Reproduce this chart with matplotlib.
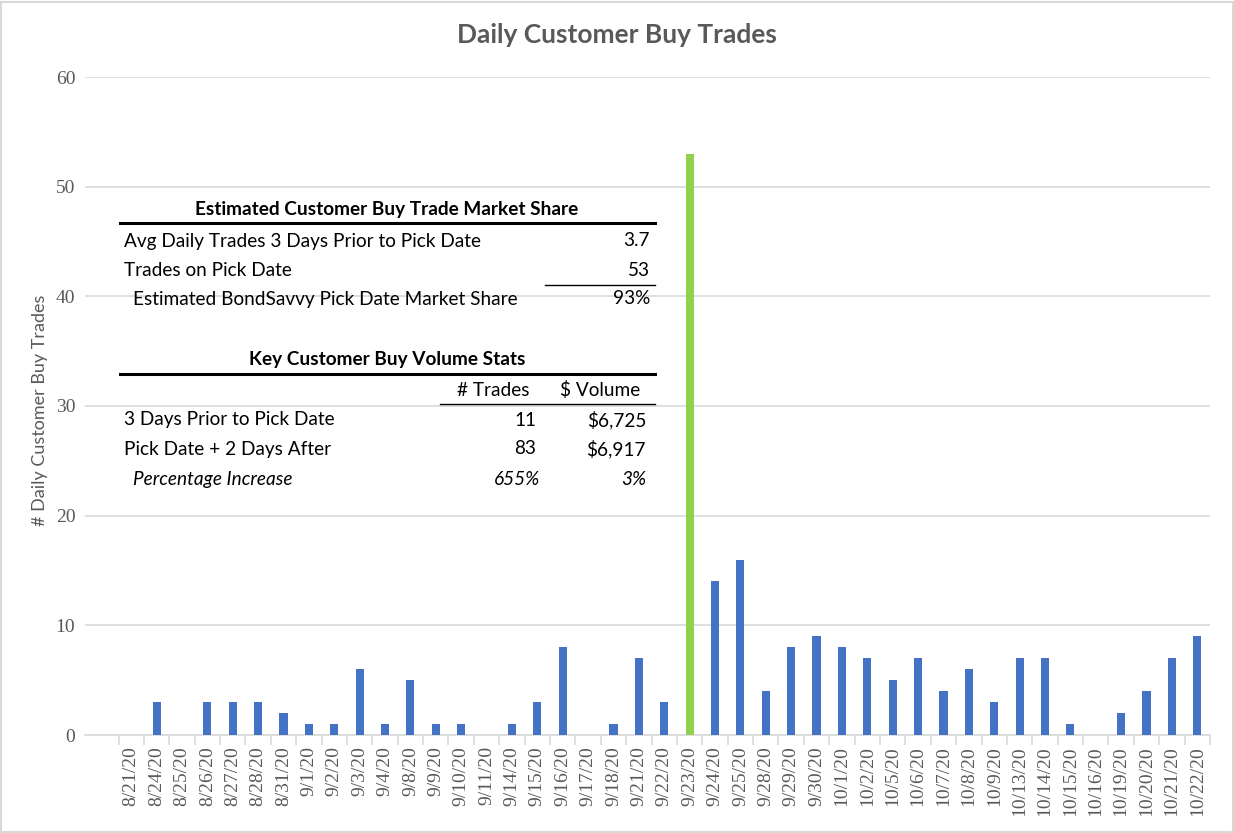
import matplotlib
matplotlib.use('Agg')
import matplotlib.pyplot as plt
import numpy as np

# Data
dates = ['8/21/20', '8/24/20', '8/25/20', '8/26/20', '8/27/20', '8/28/20', '8/31/20',
         '9/1/20', '9/2/20', '9/3/20', '9/4/20', '9/8/20', '9/9/20', '9/10/20', '9/11/20',
         '9/14/20', '9/15/20', '9/16/20', '9/17/20', '9/18/20', '9/21/20', '9/22/20',
         '9/23/20', '9/24/20', '9/25/20', '9/28/20', '9/29/20', '9/30/20', '10/1/20',
         '10/2/20', '10/5/20', '10/6/20', '10/7/20', '10/8/20', '10/9/20', '10/13/20',
         '10/14/20', '10/15/20', '10/16/20', '10/19/20', '10/20/20', '10/21/20', '10/22/20']
trades = [0, 3, 0, 3, 3, 3, 2,
          1, 1, 6, 1, 5, 1, 1, 0,
          1, 3, 8, 0, 1, 7, 3,
          53, 14, 16, 4, 8, 9, 8,
          7, 5, 7, 4, 6, 3, 7,
          7, 1, 0, 2, 4, 7, 9]
pick_date = '9/23/20'
yticks = [0, 10, 20, 30, 40, 50, 60]

# table contents
share_title = 'Estimated Customer Buy Trade Market Share'
share_rows = [('Avg Daily Trades 3 Days Prior to Pick Date', '3.7'),
              ('Trades on Pick Date', '53')]
share_total = ('Estimated BondSavvy Pick Date Market Share', '93%')
vol_title = 'Key Customer Buy Volume Stats'
vol_header = ('# Trades', '$ Volume')
vol_rows = [('3 Days Prior to Pick Date', '11', '$6,725'),
            ('Pick Date + 2 Days After', '83', '$6,917')]
vol_total = ('Percentage Increase', '655%', '3%')

BLUE = '#4472C4'
GREEN = '#92D050'
GRAY = '#595959'
GRID = '#D9D9D9'
W, H = 1234, 833

fig = plt.figure(figsize=(W / 100, H / 100), dpi=100)
ax = fig.add_axes([85 / W, 1 - 735 / H, (1210 - 85) / W, (735 - 77) / H])

x = np.arange(len(dates))
colors = [GREEN if d == pick_date else BLUE for d in dates]
ax.bar(x, trades, width=0.32, color=colors, zorder=3)

ax.set_xlim(-1.82, len(dates) - 0.5)
ax.set_ylim(0, 60)
ax.set_yticks(yticks)
ax.set_yticklabels([str(v) for v in yticks], family='Liberation Serif', fontsize=14, color=GRAY)
ax.yaxis.grid(True, color=GRID, linewidth=1.2, zorder=0)
ax.tick_params(axis='y', length=0, pad=7)

ax.set_xticks(x)
ax.set_xticklabels(dates, rotation=90, family='Liberation Serif', fontsize=14, color=GRAY)
ax.set_xticks(np.arange(len(dates) + 1) - 0.5, minor=True)
ax.tick_params(axis='x', which='major', length=0, pad=8)
ax.tick_params(axis='x', which='minor', length=7, color=GRID, width=1.2)

for s in ['top', 'right', 'left']:
    ax.spines[s].set_visible(False)
ax.spines['bottom'].set_color(GRID)
ax.spines['bottom'].set_linewidth(1.2)

fig.text(40 / W, 1 - 410 / H, '# Daily Customer Buy Trades', rotation=90, ha='center', va='center',
         family='Lato', fontsize=13, color=GRAY)
fig.text(617 / W, 1 - 35 / H, 'Daily Customer Buy Trades', ha='center', va='center',
         family='Lato', fontweight='bold', fontsize=19, color=GRAY)

# table overlay, placed in figure pixels
def px(xp, yp):
    return xp / W, 1 - yp / H

def put(xp, yp, s, ha='left', **kw):
    fig.text(*px(xp, yp), s, ha=ha, va='center', family='Lato', fontsize=13.7,
             color='black', **kw)

def hline(x0, x1, yp, lw):
    fig.add_artist(plt.Line2D([x0 / W, x1 / W], [1 - yp / H] * 2, color='black', lw=lw))

put(387, 210, share_title, ha='center', fontweight='bold')
hline(120, 655, 223, 2.2)
for i, (lab, val) in enumerate(share_rows):
    put(124, 241 + 29 * i, lab)
    put(650, 241 + 29 * i, val, ha='right')
hline(545, 655, 285, 1)
put(133, 299, share_total[0])
put(650, 299, share_total[1], ha='right')

put(387, 359, vol_title, ha='center', fontweight='bold')
hline(120, 655, 374, 2.2)
put(493, 390, vol_header[0], ha='center')
put(600, 390, vol_header[1], ha='center')
hline(440, 655, 404, 1)
for i, (lab, n, v) in enumerate(vol_rows):
    put(124, 420 + 29 * i, lab)
    put(536, 420 + 29 * i, n, ha='right')
    put(646, 420 + 29 * i, v, ha='right')
put(133, 479, vol_total[0], style='italic')
put(540, 479, vol_total[1], ha='right', style='italic')
put(646, 479, vol_total[2], ha='right', style='italic')

# chart border
fig.add_artist(plt.Rectangle((0.001, 0.001), 0.998, 0.997, transform=fig.transFigure,
                             fill=False, edgecolor=GRID, lw=1.5))

fig.savefig('out.png', dpi=100)
